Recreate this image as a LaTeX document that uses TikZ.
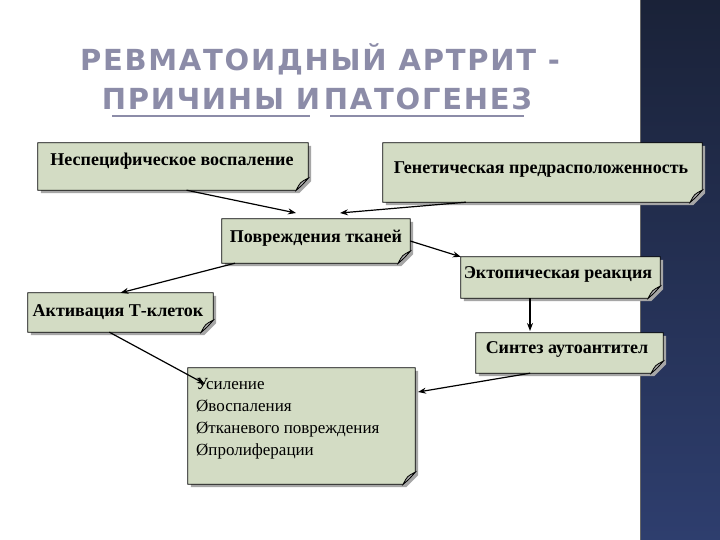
\documentclass[tikz,border=0pt]{standalone}
\usepackage{fontspec}
\setmainfont{Liberation Serif}
\newfontfamily\titlefont{DejaVu Sans}[LetterSpace=6]
\usetikzlibrary{calc,arrows.meta}
\definecolor{boxfill}{HTML}{D3DCC4}
\definecolor{navytop}{HTML}{1A2238}
\definecolor{navybot}{HTML}{2E3E6E}
\definecolor{titlec}{HTML}{8C8CA8}
\tikzset{
 box/.style={minimum width=#1, inner sep=3pt, font=\bfseries\fontsize{18}{20}\selectfont, text=black},
 arr/.style={-{Stealth[length=8pt,width=6pt]}, line width=1.2pt, black},
 ttl/.style={font=\titlefont\bfseries\fontsize{29}{34}\selectfont, text=titlec}
}
\newcommand\curlbox[1]{%
 \fill[black!35] ($(#1.north west)+(3,3)$) -- ($(#1.north east)+(3,3)$) -- ($(#1.south east)+(3,-9)$) -- ($(#1.south east)+(-9,3)$) -- ($(#1.south west)+(3,3)$) -- cycle;
 \draw[fill=boxfill, line width=0.8pt] (#1.north west) -- (#1.north east) -- ($(#1.south east)+(0,-12)$) -- ($(#1.south east)+(-12,0)$) -- (#1.south west) -- cycle;
 \draw[fill=black!35, line width=0.8pt] ($(#1.south east)+(0,-12)$) .. controls ($(#1.south east)+(-6,-5)$) .. ($(#1.south east)+(-12,0)$) .. controls ($(#1.south east)+(-8,-8)$) .. cycle;
}
\begin{document}
\begin{tikzpicture}[x=1pt,y=-1pt]
\useasboundingbox (0,0) rectangle (720,540);
\fill[white] (0,0) rectangle (720,540);
\shade[top color=navytop, bottom color=navybot] (640,0) rectangle (720,540);
\draw[black!60, line width=0.8pt] (640,0) -- (640,540);
% title
\node[ttl] (t1) at (320,59) {РЕВМАТОИДНЫЙ АРТРИТ -};
\node[ttl] (t2a) at (211,99) {ПРИЧИНЫ И};
\node[ttl] (t2b) at (428,99) {ПАТОГЕНЕЗ};
\draw[titlec, line width=2pt] (112,116) -- (310,116);
\draw[titlec, line width=2pt] (330,116) -- (524,116);
% boxes
\node[box=270pt, minimum height=47pt] (b1) at (173,166.5) {};
\node[box=319pt, minimum height=59pt] (b2) at (542.5,172.5) {};
\node[box=188pt, minimum height=44pt] (b3) at (316,241) {};
\node[box=199pt, minimum height=41pt] (b4) at (560.5,277.5) {};
\node[box=185pt, minimum height=39pt] (b5) at (120.5,312.5) {};
\node[box=187pt, minimum height=40pt] (b6) at (569.5,353) {};
\node[box=227pt, minimum height=116pt] (b7) at (301.5,426) {};
\curlbox{b1}\curlbox{b2}\curlbox{b3}\curlbox{b4}\curlbox{b5}\curlbox{b6}\curlbox{b7}
\node[box=270pt] (l1) at (172,161) {Неспецифическое воспаление};
\node[box=319pt] (l2) at (541,170) {Генетическая предрасположенность};
\node[box=188pt] (l3) at (316,238) {Повреждения тканей};
\node[box=199pt] (l4) at (558,274) {Эктопическая реакция};
\node[box=185pt] (l5) at (118,312) {Активация Т-клеток};
\node[box=187pt] (l6) at (567,349) {Синтез аутоантител};
\node[anchor=north west, align=left, inner sep=0pt, font=\fontsize{17}{22}\selectfont] (l7) at (196,378) {Усиление\\Øвоспаления\\Øтканевого повреждения\\Øпролиферации};
% arrows
\coordinate (a1) at (296,213);
\coordinate (a2) at (340,213);
\draw[arr] ($(b1.south west)!0.55!(b1.south east)$) -- (a1);
\draw[arr] ($(b2.south west)!0.26!(b2.south east)$) -- (a2);
\draw[arr] (b3.east) -- (b4.north west);
\draw[arr] ($(b3.south west)!0.07!(b3.south east)$) -- (b5.north);
\draw[arr] (530,298) -- (530,331);
\draw[arr] ($(b5.south west)!0.44!(b5.south east)$) -- (205,384);
\draw[arr] ($(b6.south west)!0.29!(b6.south east)$) -- (418,392);
\end{tikzpicture}
\end{document}
